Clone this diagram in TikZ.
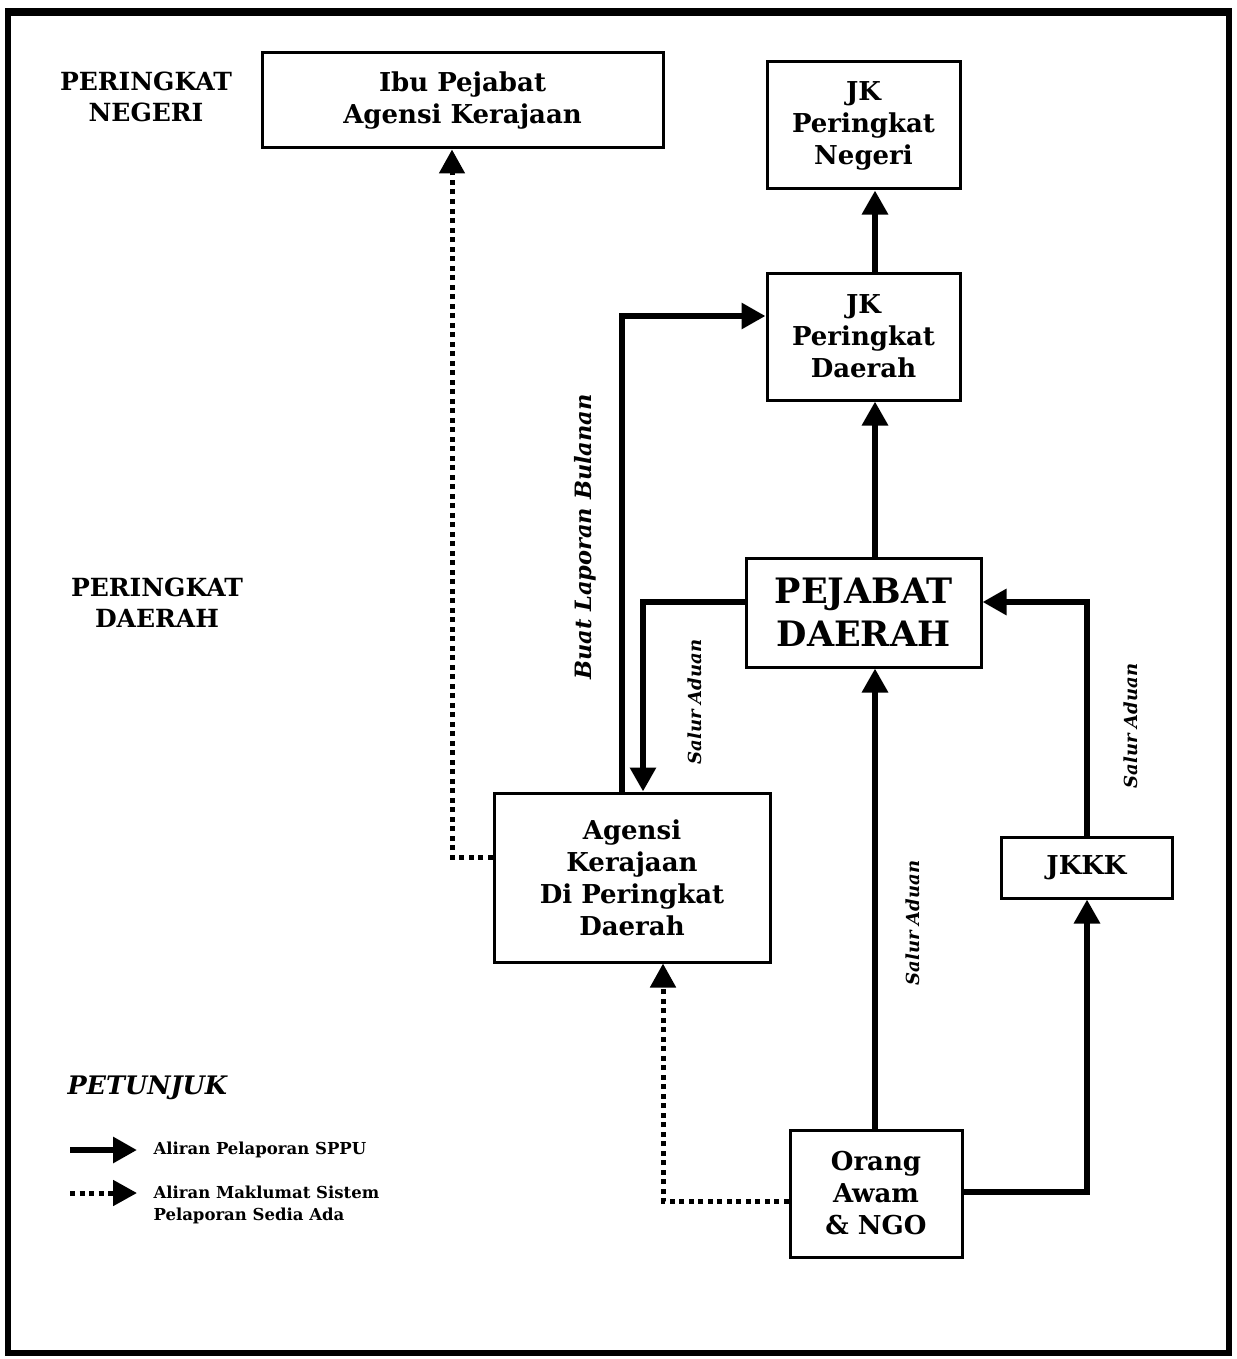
\documentclass[tikz,border=0pt]{standalone}
\usepackage{fontspec}
\setmainfont{DejaVu Serif}
\usetikzlibrary{arrows.meta}
\begin{document}
\begin{tikzpicture}[x=1pt,y=-1pt,
  box/.style={draw,line width=3pt,align=center,inner sep=0pt,
    font=\fontsize{26}{32}\selectfont\bfseries},
  lvl/.style={align=center,font=\fontsize{25}{31}\selectfont\bfseries},
  flow/.style={line width=6pt,-{Triangle[length=24pt,width=25pt]}},
  info/.style={line width=5pt,dash pattern=on 5pt off 4.5pt,-{Triangle[length=24pt,width=25pt]}},
  vlab/.style={rotate=90,font=\fontsize{18}{20}\selectfont\bfseries\itshape},
  leg/.style={anchor=west,align=left,font=\fontsize{16.5}{22}\selectfont\bfseries}]
\useasboundingbox (0,0) rectangle (1236,1359);
\draw[line width=6pt] (8,11) rectangle (1229,1353);
\draw[line width=4pt] (8,14) -- (1229,14);
% nodes
\node[box,minimum width=401pt,minimum height=95pt] (ibu) at (462.5,100.5) {Ibu Pejabat\\Agensi Kerajaan};
\node[box,minimum width=193pt,minimum height=127pt] (jkn) at (863.5,125.5) {JK\\Peringkat\\Negeri};
\node[box,minimum width=193pt,minimum height=127pt] (jkd) at (863.5,336.5) {JK\\Peringkat\\Daerah};
\node[box,minimum width=235pt,minimum height=109pt,font=\fontsize{35}{43}\selectfont\bfseries] (pd) at (863.5,612.5) {PEJABAT\\DAERAH};
\node[box,minimum width=276pt,minimum height=169pt] (ag) at (632,877.5) {Agensi\\Kerajaan\\Di Peringkat\\Daerah};
\node[box,minimum width=171pt,minimum height=61pt] (jkkk) at (1086.5,867.5) {JKKK};
\node[box,minimum width=172pt,minimum height=127pt] (oa) at (876,1193.5) {Orang\\Awam\\\& NGO};
\node[lvl] (neg) at (146,97) {PERINGKAT\\NEGERI};
\node[lvl] (dae) at (157,603) {PERINGKAT\\DAERAH};
% helper coordinates
\coordinate (xm) at (875,0);
\coordinate (xr) at (1087,0);
\coordinate (xa) at (643,0);
\coordinate (xb) at (622,0);
\coordinate (yb) at (0,316);
\coordinate (yp) at (0,602);
\coordinate (xd) at (452,0);
\coordinate (yd) at (0,857);
\coordinate (xe) at (663,0);
\coordinate (ye) at (0,1201);
\coordinate (yo) at (0,1192);
% solid flows
\draw[flow] (jkd.north -| xm) -- (jkn.south -| xm);
\draw[flow] (pd.north -| xm) -- (jkd.south -| xm);
\draw[flow] (oa.north -| xm) -- (pd.south -| xm);
\draw[flow] (oa.east |- yo) -| (jkkk.south -| xr);
\draw[flow] (jkkk.north -| xr) |- (pd.east |- yp);
\draw[flow] (pd.west |- yp) -| (ag.north -| xa);
\draw[flow] (ag.north -| xb) |- (jkd.west |- yb);
% dotted flows
\draw[info] (ag.west |- yd) -| (ibu.south -| xd);
\draw[info] (oa.west |- ye) -| (ag.south -| xe);
% labels on connectors
\node[vlab,font=\fontsize{22.5}{24}\selectfont\bfseries\itshape] (lb) at (585,537) {Buat Laporan Bulanan};
\node[vlab] (s1) at (695,702) {Salur Aduan};
\node[vlab] (s2) at (913,923) {Salur Aduan};
\node[vlab] (s3) at (1131,726) {Salur Aduan};
% legend
\node[anchor=west,font=\fontsize{25.5}{28}\selectfont\bfseries\itshape] (pt) at (64,1088) {PETUNJUK};
\coordinate (l1a) at (70,1150);
\coordinate (l1b) at (137,1150);
\coordinate (l2a) at (70,1193);
\coordinate (l2b) at (137,1193);
\draw[flow] (l1a) -- (l1b);
\draw[info] (l2a) -- (l2b);
\node[leg] (t1) at (150,1150) {Aliran Pelaporan SPPU};
\node[leg,anchor=north west] (t2) at (150,1182) {Aliran Maklumat Sistem\\Pelaporan Sedia Ada};
\end{tikzpicture}
\end{document}
